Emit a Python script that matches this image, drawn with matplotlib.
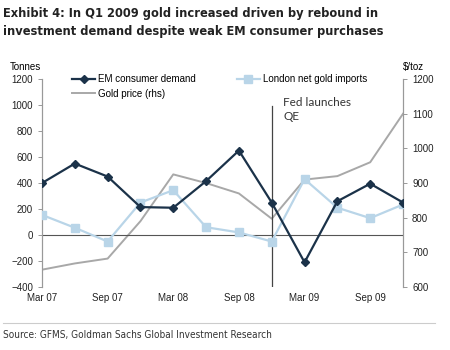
import matplotlib.pyplot as plt

quarters = ["Mar 07", "Jun 07", "Sep 07", "Dec 07", "Mar 08", "Jun 08",
            "Sep 08", "Dec 08", "Mar 09", "Jun 09", "Sep 09", "Dec 09"]
em_demand = [400, 550, 450, 215, 210, 415, 650, 250, -210, 260, 395, 250]
london_imports = [155, 56, -50, 250, 345, 60, 20, -50, 430, 210, 130, 235]
gold_price = [650, 668, 682, 790, 925, 900, 870, 797, 910, 920, 960, 1100]

x = list(range(len(quarters)))
plt.rcParams['font.family'] = ['Liberation Sans', 'DejaVu Sans']

fig = plt.figure(figsize=(4.5, 3.5), dpi=100)
ax = fig.add_axes([0.0933, 0.18, 0.8023, 0.594])
ax2 = ax.twinx()

ax.plot(x, em_demand, color='#1b3249', lw=1.6, marker='D', ms=4.5, zorder=5,
        label='EM consumer demand')
ax.plot(x, london_imports, color='#b9d5e8', lw=1.6, marker='s', ms=6, zorder=4,
        label='London net gold imports')
ax2.plot(x, gold_price, color='#a8a8a8', lw=1.4, label='Gold price (rhs)')
ax.axhline(0, color='#555555', lw=0.8, zorder=1)
ax.axvline(7, ymax=0.87, color='#444444', lw=0.9, zorder=3)

ax.set_zorder(2)
ax.patch.set_visible(False)

ax.set_xlim(0, 11)
ax.set_ylim(-400, 1200)
ax.set_yticks(range(-400, 1201, 200))
ax2.set_ylim(600, 1200)
ax2.set_yticks(range(600, 1201, 100))
ax.set_xticks(x[::2])
ax.set_xticklabels(quarters[::2])

for a in (ax, ax2):
    a.spines['top'].set_visible(False)
    a.spines['bottom'].set_visible(False)
    a.spines['left'].set_color('#999999')
    a.spines['right'].set_color('#999999')
    a.tick_params(labelsize=7, colors='#222222', length=3, width=0.7)
ax.tick_params(axis='y', color='#999999')
ax2.tick_params(axis='y', color='#999999')
ax.tick_params(axis='x', length=0, pad=4)

ax.text(7.35, 1060, 'Fed launches\nQE', fontsize=8.5, family=['Lato', 'DejaVu Sans'],
        color='#333333', va='top', linespacing=1.3)

h1, l1 = ax.get_legend_handles_labels()
h2, l2 = ax2.get_legend_handles_labels()
handles = [h1[0], h2[0], h1[1]]
labels = [l1[0], l2[0], l1[1]]
ax.legend(handles, labels, ncol=2, frameon=False, fontsize=7,
          loc='upper left', bbox_to_anchor=(0.06, 1.065), handlelength=2.3,
          handletextpad=0.3, columnspacing=4.3, labelspacing=0.45)

fig.text(0.022, 0.80, 'Tonnes', fontsize=7)
fig.text(0.895, 0.80, '$/toz', fontsize=7)

fig.text(0.007, 0.98, 'Exhibit 4: In Q1 2009 gold increased driven by rebound in\n'
         'investment demand despite weak EM consumer purchases',
         fontsize=9.2, fontweight='bold', family='DejaVu Sans', stretch='condensed',
         va='top', color='#222222', linespacing=1.45)

fig.add_artist(plt.Line2D([0.007, 0.967], [0.077, 0.077], color='#cccccc', lw=0.8))
fig.text(0.007, 0.035, 'Source: GFMS, Goldman Sachs Global Investment Research',
         fontsize=7.2, family='DejaVu Sans', stretch='condensed', color='#333333')

fig.savefig('out.png', dpi=100)
